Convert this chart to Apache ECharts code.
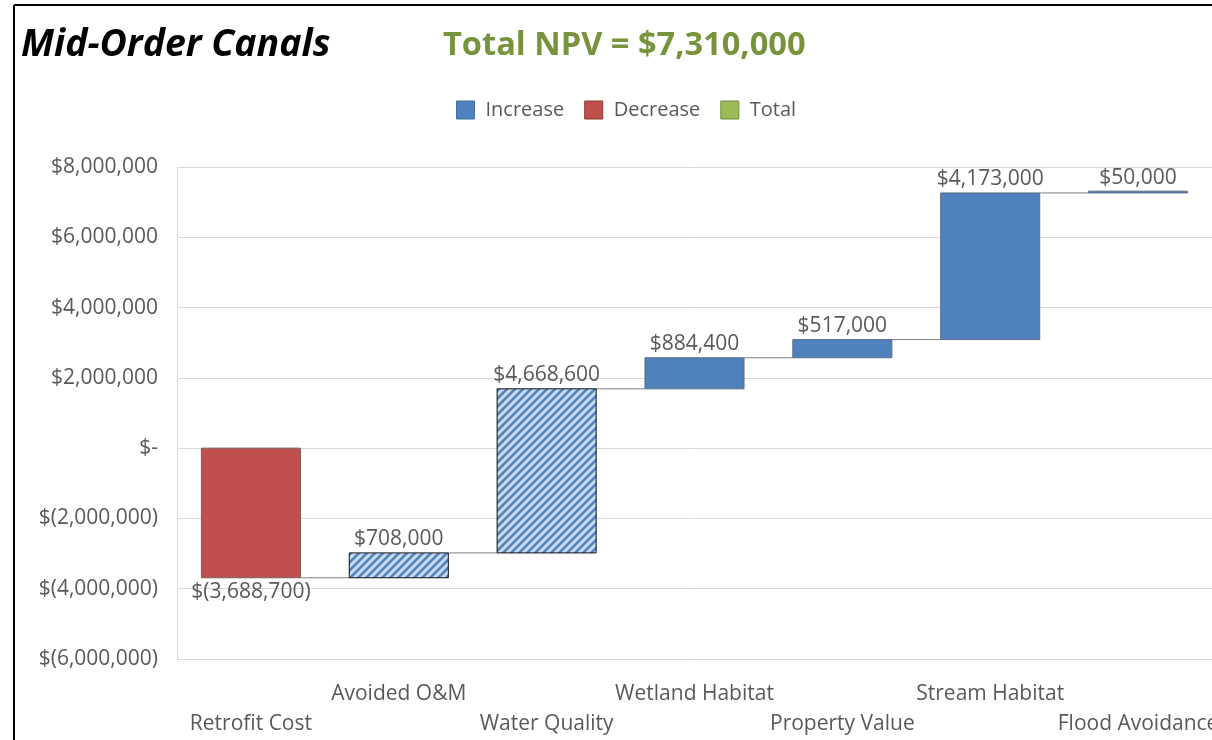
<!DOCTYPE html>
<html>
<head>
<meta charset="utf-8">
<script src="https://cdn.jsdelivr.net/npm/echarts@6/dist/echarts.min.js"></script>
<style>
html,body{margin:0;padding:0;background:#fff;overflow:hidden;}
#chart{width:1212px;height:740px;}
</style>
</head>
<body>
<div id="chart"></div>
<script>
// ---- data ----
const categories = ['Retrofit Cost', 'Avoided O&M', 'Water Quality', 'Wetland Habitat', 'Property Value', 'Stream Habitat', 'Flood Avoidance'];
const changes = [-3688700, 708000, 4668600, 884400, 517000, 4173000, 50000];
const hatched = [false, true, true, false, false, false, false];
const yTicks = { min: -6000000, max: 8000000, interval: 2000000 };
const chartTitle = 'Mid-Order Canals';
const totalText = 'Total NPV = $7,310,000';

// ---- helpers ----
const FONT = '"Open Sans", "Noto Sans", sans-serif';
function fmtMoney(v) {
  if (v === 0) return '$-';
  const s = Math.abs(v).toLocaleString('en-US');
  return v < 0 ? '$(' + s + ')' : '$' + s;
}

// waterfall ranges built from changes
const incData = [], decData = [], connData = [];
let run = 0;
changes.forEach((c, i) => {
  const s = run, e = run + c;
  const item = [i, s, e, hatched[i] ? 1 : 0, c];
  if (c >= 0) incData.push(item); else decData.push(item);
  if (i < changes.length - 1) connData.push([i, e]);
  run = e;
});

// hatch pattern
const P = 8;
const pat = document.createElement('canvas');
pat.width = P; pat.height = P;
(function () {
  const ctx = pat.getContext('2d');
  ctx.fillStyle = '#C6D9F1';
  ctx.fillRect(0, 0, P, P);
  ctx.strokeStyle = '#4F81BD';
  ctx.lineWidth = 2.6;
  for (let k = -P; k <= P; k += P) {
    ctx.beginPath();
    ctx.moveTo(k - 1, P + 1);
    ctx.lineTo(k + P + 1, -1);
    ctx.stroke();
  }
})();

function makeBarRenderer(color, border) {
  return function (params, api) {
    const i = api.value(0), s = api.value(1), e = api.value(2), h = api.value(3), c = api.value(4);
    const p0 = api.coord([i, s]), p1 = api.coord([i, e]);
    const w = api.size([1, 0])[0] * 0.67;
    const top = Math.min(p0[1], p1[1]);
    const bottom = Math.max(p0[1], p1[1]);
    const height = Math.max(bottom - top, 1);
    const x = p0[0] - w / 2;
    const labelPos = c >= 0
      ? { x: p0[0], y: top - 3, verticalAlign: 'bottom' }
      : { x: p0[0], y: bottom + 4, verticalAlign: 'top' };
    return {
      type: 'group',
      children: [
        {
          type: 'rect',
          shape: { x: x, y: top, width: w, height: height },
          style: {
            fill: h ? { image: pat, repeat: 'repeat' } : color,
            stroke: h ? '#111' : border,
            lineWidth: 1
          }
        },
        {
          type: 'text',
          x: labelPos.x, y: labelPos.y,
          style: {
            text: fmtMoney(c),
            align: 'center',
            verticalAlign: labelPos.verticalAlign,
            fill: '#595959',
            font: '21px ' + FONT
          },
          z2: 10
        }
      ]
    };
  };
}

const chart = echarts.init(document.getElementById('chart'), null, { renderer: 'canvas' });
chart.setOption({
  backgroundColor: '#fff',
  animation: false,
  title: [
    { text: chartTitle, left: 16, top: 21, textStyle: { fontFamily: FONT, fontSize: 37.5, fontWeight: 'bold', fontStyle: 'italic', color: '#000' } },
    { text: totalText, left: 438, top: 24, textStyle: { fontFamily: FONT, fontSize: 32.6, fontWeight: 'bold', color: '#77933C' } }
  ],
  legend: {
    left: 451, top: 95,
    itemWidth: 18, itemHeight: 18, itemGap: 20,
    icon: 'rect',
    textStyle: { fontFamily: FONT, fontSize: 20, color: '#595959', padding: [0, 0, 0, 6] },
    data: [
      { name: 'Increase', itemStyle: { color: '#4F81BD', borderColor: '#41719C', borderWidth: 1 } },
      { name: 'Decrease', itemStyle: { color: '#C0504D', borderColor: '#8C3836', borderWidth: 1 } },
      { name: 'Total', itemStyle: { color: '#9BBB59', borderColor: '#71893F', borderWidth: 1 } }
    ]
  },
  graphic: [
    { type: 'line', shape: { x1: 14, y1: 5, x2: 1212, y2: 5 }, style: { stroke: '#000', lineWidth: 2 }, z: 100 },
    { type: 'line', shape: { x1: 14, y1: 5, x2: 14, y2: 740 }, style: { stroke: '#000', lineWidth: 2 }, z: 100 }
  ],
  grid: { left: 177, right: 0, top: 167, bottom: 81, containLabel: false, outerBoundsMode: 'none' },
  xAxis: {
    type: 'category',
    data: categories,
    axisLine: { show: false },
    axisTick: { show: false },
    splitLine: { show: false },
    axisLabel: {
      interval: 0,
      margin: 20,
      lineHeight: 30,
      fontFamily: FONT,
      fontSize: 21,
      color: '#595959',
      formatter: function (v, i) { return i % 2 === 0 ? '\n' + v : v; }
    }
  },
  yAxis: {
    type: 'value',
    min: yTicks.min, max: yTicks.max, interval: yTicks.interval,
    axisLine: { show: true, lineStyle: { color: '#D9D9D9', width: 1 } },
    axisTick: { show: false },
    splitLine: { lineStyle: { color: '#D9D9D9', width: 1 } },
    axisLabel: { margin: 19, fontFamily: FONT, fontSize: 21, color: '#595959', formatter: fmtMoney }
  },
  series: [
    {
      name: 'Connector', type: 'custom', z: 1, silent: true,
      data: connData,
      encode: { x: 0, y: 1 },
      renderItem: function (params, api) {
        const i = api.value(0), lvl = api.value(1);
        const a = api.coord([i, lvl]), b = api.coord([i + 1, lvl]);
        const w = api.size([1, 0])[0] * 0.67;
        return { type: 'line', shape: { x1: a[0] + w / 2, y1: a[1], x2: b[0] - w / 2, y2: b[1] }, style: { stroke: '#7F7F7F', lineWidth: 1 } };
      }
    },
    {
      name: 'Increase', type: 'custom', z: 2,
      itemStyle: { color: '#4F81BD' },
      data: incData,
      encode: { x: 0, y: [1, 2] },
      renderItem: makeBarRenderer('#4F81BD', '#5A6E86')
    },
    {
      name: 'Decrease', type: 'custom', z: 2,
      itemStyle: { color: '#C0504D' },
      data: decData,
      encode: { x: 0, y: [1, 2] },
      renderItem: makeBarRenderer('#C0504D', '#7A5A5A')
    },
    { name: 'Total', type: 'bar', data: [], itemStyle: { color: '#9BBB59' } }
  ]
});
</script>
</body>
</html>
